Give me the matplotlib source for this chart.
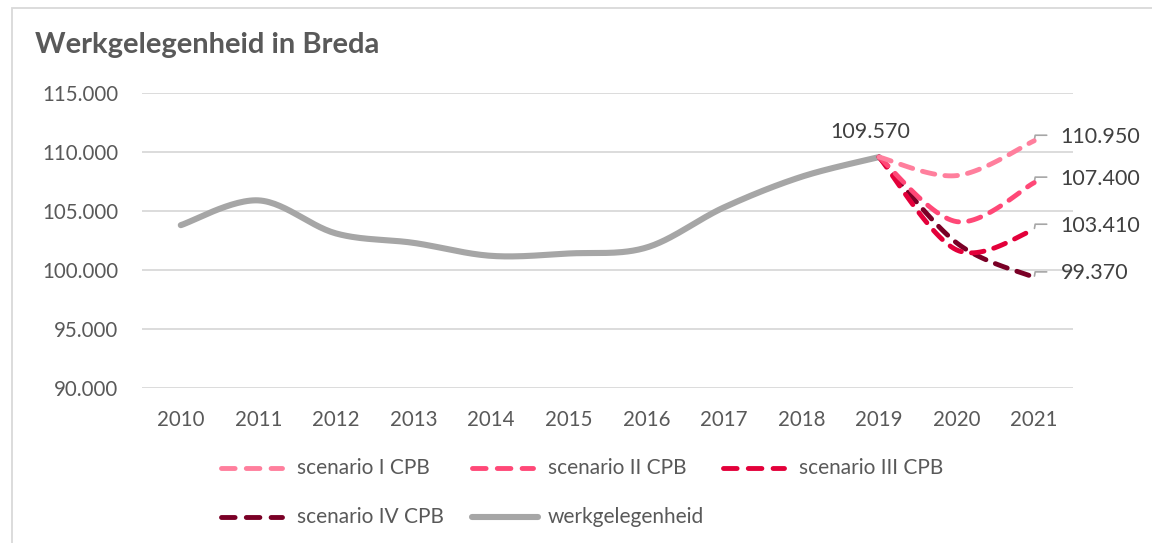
import numpy as np
import matplotlib
matplotlib.use("Agg")
import matplotlib.pyplot as plt
from matplotlib.lines import Line2D
from matplotlib.patches import Rectangle

plt.rcParams['font.family'] = ['Lato', 'DejaVu Sans']

years = ['2010', '2011', '2012', '2013', '2014', '2015', '2016', '2017', '2018', '2019', '2020', '2021']
werkgelegenheid = [103800, 105900, 103100, 102300, 101200, 101400, 101900, 105300, 107900, 109570]
scen_years = ['2019', '2020', '2021']
scenario_I = [109570, 108000, 110950]
scenario_II = [109570, 104100, 107400]
scenario_III = [109570, 101700, 103410]
scenario_IV = [109570, 102300, 99370]
scen_names = ['scenario I CPB', 'scenario II CPB', 'scenario III CPB', 'scenario IV CPB']
scen_values = [scenario_I, scenario_II, scenario_III, scenario_IV]
scen_colors = ['#FF7F9D', '#FF4877', '#E3003A', '#7A0026']
gray = '#A6A6A6'
yticks = [90000, 95000, 100000, 105000, 110000, 115000]


def fmt(v):
    return f"{v:,.0f}".replace(',', '.')


def smooth(x, y, n=30):
    """Excel-like smoothed line (cubic Bezier, Catmull-Rom control points)."""
    x = np.asarray(x, float)
    y = np.asarray(y, float)
    px, py = [], []
    m = len(x)
    for i in range(m - 1):
        x0, y0 = (x[i - 1], y[i - 1]) if i > 0 else (x[i], y[i])
        x3, y3 = (x[i + 2], y[i + 2]) if i + 2 < m else (x[i + 1], y[i + 1])
        x1, y1 = x[i], y[i]
        x2, y2 = x[i + 1], y[i + 1]
        c1x, c1y = x1 + (x2 - x0) / 6, y1 + (y2 - y0) / 6
        c2x, c2y = x2 - (x3 - x1) / 6, y2 - (y3 - y1) / 6
        t = np.linspace(0, 1, n)
        bx = (1 - t) ** 3 * x1 + 3 * (1 - t) ** 2 * t * c1x + 3 * (1 - t) * t ** 2 * c2x + t ** 3 * x2
        by = (1 - t) ** 3 * y1 + 3 * (1 - t) ** 2 * t * c1y + 3 * (1 - t) * t ** 2 * c2y + t ** 3 * y2
        px.extend(bx if i == 0 else bx[1:])
        py.extend(by if i == 0 else by[1:])
    return np.array(px), np.array(py)


W, H = 1152, 543
fig = plt.figure(figsize=(W / 100, H / 100), dpi=100)
fig.patch.set_facecolor('white')
fig.add_artist(Rectangle((11.5 / W, -0.1), 2.0, (H - 7.5) / H + 0.1, transform=fig.transFigure,
                         fill=False, edgecolor='#D9D9D9', linewidth=1.3))

ax = fig.add_axes([142 / W, 1 - 388 / H, (1073 - 142) / W, (388 - 93) / H])
ax.set_xlim(-0.5, len(years) - 0.5)
ax.set_ylim(90000, 115000)
ax.set_yticks(yticks)
ax.set_yticklabels([fmt(v) for v in yticks])
ax.set_xticks(range(len(years)))
ax.set_xticklabels(years)
for s in ax.spines.values():
    s.set_visible(False)
ax.tick_params(length=0, labelsize=14.8, colors='#595959')
ax.tick_params(axis='y', pad=17)
ax.tick_params(axis='x', pad=16)
ax.grid(axis='y', color='#D9D9D9', linewidth=1.3)
ax.set_axisbelow(True)

xi = np.arange(len(werkgelegenheid))
sx, sy = smooth(xi, werkgelegenheid)
ax.plot(sx, sy, color=gray, linewidth=4.4, solid_capstyle='round', zorder=3)

sxi = [years.index(y) for y in scen_years]
for vals, c in zip(scen_values[::-1], scen_colors[::-1]):
    px, py = smooth(sxi, vals)
    ax.plot(px, py, color=c, linewidth=3.5, linestyle=(0, (2.6, 2.1)), dash_capstyle='round', zorder=4)

# data labels
ax.annotate(fmt(werkgelegenheid[-1]), xy=(len(werkgelegenheid) - 1, werkgelegenheid[-1]),
            xytext=(-6, 18), textcoords='offset points', ha='center', va='center',
            fontsize=15.5, color='#404040')
for vals in scen_values:
    ax.annotate('', xy=(sxi[-1], vals[-1]), xytext=(9, 4), textcoords='offset points',
                arrowprops=dict(arrowstyle='-', color='#A6A6A6', lw=1.2, shrinkA=0, shrinkB=1,
                                connectionstyle='angle,angleA=0,angleB=80,rad=0'))
    ax.annotate(fmt(vals[-1]), xy=(sxi[-1], vals[-1]), xytext=(19, 3), textcoords='offset points',
                ha='left', va='center', fontsize=15.5, color='#404040')

fig.text(35 / W, 1 - 45 / H, 'Werkgelegenheid in Breda', fontsize=21, fontweight='bold',
         color='#595959', ha='left', va='center')

# legend
legend_items = list(zip(scen_names, scen_colors, ['dash'] * 4)) + [('werkgelegenheid', gray, 'solid')]
positions = [(219, 468), (470, 468), (721, 468), (219, 517), (470, 517)]
for (name, c, st), (lx, ly) in zip(legend_items, positions):
    yy = 1 - ly / H
    if st == 'dash':
        ln = Line2D([(lx + 2) / W, (lx + 63) / W], [yy, yy], transform=fig.transFigure, color=c,
                    linewidth=3.5, linestyle=(0, (2.8, 2.3)), dash_capstyle='round')
    else:
        ln = Line2D([(lx + 2) / W, (lx + 68) / W], [yy, yy], transform=fig.transFigure, color=c,
                    linewidth=4.4, solid_capstyle='round')
    fig.add_artist(ln)
    fig.text((lx + 78) / W, yy, name, fontsize=15, color='#595959', ha='left', va='center')

fig.savefig('out.png', dpi=100)
